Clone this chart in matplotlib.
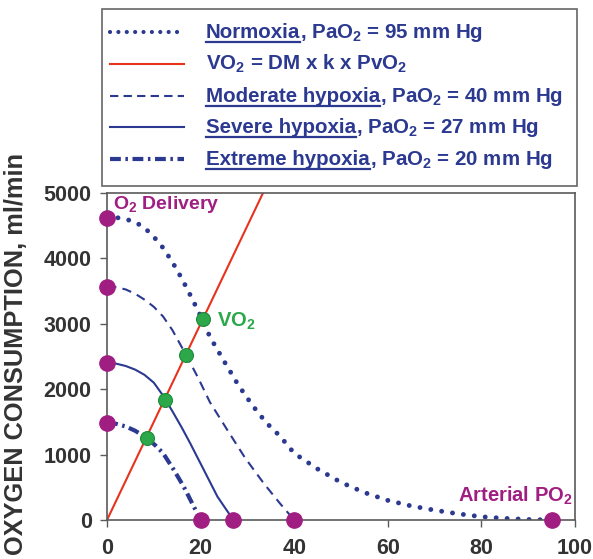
import numpy as np
import matplotlib
matplotlib.use("Agg")
import matplotlib.pyplot as plt
from matplotlib.lines import Line2D
from matplotlib.patches import Rectangle

plt.rcParams['font.family'] = ['Liberation Sans', 'DejaVu Sans']
plt.rcParams['font.weight'] = 'bold'
plt.rcParams['mathtext.fontset'] = 'custom'
plt.rcParams['mathtext.rm'] = 'Liberation Sans:bold'
plt.rcParams['mathtext.bf'] = 'Liberation Sans:bold'
plt.rcParams['mathtext.it'] = 'Liberation Sans:bold'
plt.rcParams['mathtext.default'] = 'rm'

# ---- data: O2 delivery curves vs venous PO2 (mm Hg) ----
normoxia_x = [0, 2, 4, 6, 8, 10, 12, 14, 16, 18, 20, 22, 25, 28, 31, 34, 37, 40,
              45, 50, 55, 60, 65, 70, 75, 80, 85, 90, 95]
normoxia_y = [4630, 4625, 4600, 4555, 4470, 4330, 4160, 3940, 3690, 3410, 3120, 2800,
              2430, 2070, 1760, 1490, 1280, 1020, 780, 575, 420, 300, 215, 150, 95, 50,
              25, 8, 0]

moderate_x = [0, 2, 4, 6, 8, 10, 12, 14, 17, 19.5, 22, 25.5, 29.5, 33.5, 37, 40]
moderate_y = [3570, 3560, 3525, 3460, 3370, 3260, 3110, 2900, 2510, 2170, 1800, 1400,
              950, 560, 250, 0]

severe_x = [0, 2, 4, 6, 8, 10, 12, 14, 16, 17.8, 20.7, 23.6, 27]
severe_y = [2400, 2390, 2355, 2300, 2220, 2100, 1900, 1660, 1410, 1170, 764, 357, 0]

extreme_x = [0, 2, 4, 6, 8.6, 10.5, 12, 14.3, 16.4, 18.2, 20]
extreme_y = [1480, 1470, 1430, 1365, 1250, 1130, 1020, 764, 509, 255, 0]

# Fick diffusion line VO2 = DM x k x PvO2
dm_k = 150
pvo2_line = np.array([0, 40])

# VO2 operating points (intersections)
vo2_x = [8.5, 12.4, 16.9, 20.5]
vo2_y = [1260, 1840, 2520, 3080]

# O2 delivery (PvO2 = 0) and arterial PO2 (VO2 = 0) points
delivery_x = [0, 0, 0, 0]
delivery_y = [4620, 3570, 2400, 1480]
arterial_x = [20, 27, 40, 95]
arterial_y = [0, 0, 0, 0]

x_ticks = [0, 20, 40, 60, 80, 100]
y_ticks = [0, 1000, 2000, 3000, 4000, 5000]

# ---- colours ----
navy = '#2B3990'
red = '#E8321E'
purple = '#A01E82'
green = '#2CA84A'
green_edge = '#1F8A3A'
gray = '#333333'
spine_gray = '#5a5a5a'

W, H = 593, 559
fig = plt.figure(figsize=(W / 100, H / 100), dpi=100)
ax = fig.add_axes([107 / W, 1 - 520 / H, (575 - 107) / W, (520 - 193) / H])

normoxia_style = dict(color=navy, lw=3.5, linestyle=(0, (0.01, 2.25)), dash_capstyle='round')
moderate_style = dict(color=navy, lw=1.5, linestyle=(0, (4.5, 3)))
severe_style = dict(color=navy, lw=1.5, linestyle='-')
extreme_style = dict(color=navy, lw=3.0, linestyle=(0, (2.6, 1.1, 0.6, 1.1)))
line_style = dict(color=red, lw=1.5, linestyle='-')

ax.plot(normoxia_x, normoxia_y, **normoxia_style)
ax.plot(moderate_x, moderate_y, **moderate_style)
ax.plot(severe_x, severe_y, **severe_style)
ax.plot(extreme_x, extreme_y, **extreme_style)
ax.plot(pvo2_line, dm_k * pvo2_line, **line_style)

ax.plot(vo2_x, vo2_y, 'o', ms=10, color=green, mec=green_edge, mew=0.8, zorder=5)
ax.plot(delivery_x, delivery_y, 'o', ms=11, color=purple, mec=purple, zorder=6, clip_on=False)
ax.plot(arterial_x, arterial_y, 'o', ms=11, color=purple, mec=purple, zorder=6, clip_on=False)

ax.text(1.2, 4755, 'O$_2$ Delivery', color=purple, fontsize=14, ha='left', va='baseline')
ax.text(23.5, 2950, 'VO$_2$', color=green, fontsize=14.5, ha='left', va='baseline')
ax.text(99.4, 275, 'Arterial PO$_2$', color=purple, fontsize=14.5, ha='right', va='baseline')

ax.set_xlim(0, 100)
ax.set_ylim(0, 5000)
ax.set_xticks(x_ticks)
ax.set_yticks(y_ticks)
ax.set_xticklabels([str(v) for v in x_ticks])
ax.set_yticklabels([str(v) for v in y_ticks])
ax.tick_params(axis='both', direction='out', length=5, width=1, color=spine_gray,
               labelsize=15.5, labelcolor=gray)
ax.tick_params(axis='y', pad=6)
ax.tick_params(axis='x', pad=8)
for lbl in ax.get_xticklabels() + ax.get_yticklabels():
    lbl.set_fontweight('bold')
for sp in ax.spines.values():
    sp.set_color(spine_gray)
    sp.set_linewidth(1.2)

fig.text(16.5 / W, 1 - 354 / H, 'OXYGEN CONSUMPTION, ml/min', rotation=90,
         fontsize=18.3, color=gray, ha='center', va='center')

# ---- legend box drawn in figure pixels ----
def fx(px):
    return px / W

def fy(py):
    return 1 - py / H

fig.add_artist(Rectangle((fx(102), fy(186)), fx(577) - fx(102), fy(9) - fy(186),
                         transform=fig.transFigure, facecolor='white',
                         edgecolor='#666666', lw=1.2))

legend_rows = [
    (dict(color=navy, lw=3.0, linestyle=(0, (0.01, 2.0)), dash_capstyle='round'),
     'Normoxia', ', PaO$_2$ = 95 mm Hg'),
    (line_style, '', 'VO$_2$ = DM x k x PvO$_2$'),
    (dict(color=navy, lw=1.5, linestyle=(0, (4, 2.5))), 'Moderate hypoxia', ', PaO$_2$ = 40 mm Hg'),
    (severe_style, 'Severe hypoxia', ', PaO$_2$ = 27 mm Hg'),
    (dict(color=navy, lw=3.0, linestyle=(0, (2.6, 1.1, 0.6, 1.1))), 'Extreme hypoxia',
     ', PaO$_2$ = 20 mm Hg'),
]
baselines = [38, 70, 102, 133, 165]

fig.canvas.draw()
renderer = fig.canvas.get_renderer()
text_x0 = 206
legend_fs = 14.8
for (style, under, rest), base in zip(legend_rows, baselines):
    fig.add_artist(Line2D([fx(110), fx(184)], [fy(base - 6)] * 2,
                          transform=fig.transFigure, **style))
    x_cursor = text_x0
    if under:
        t1 = fig.text(fx(x_cursor), fy(base), under, fontsize=legend_fs, color=navy,
                      ha='left', va='baseline')
        bb = t1.get_window_extent(renderer)
        fig.add_artist(Line2D([bb.x0 / W, bb.x1 / W], [fy(base + 4)] * 2,
                              transform=fig.transFigure, color=navy, lw=1.6))
        x_cursor = bb.x1
    fig.text(fx(x_cursor), fy(base), rest, fontsize=legend_fs, color=navy,
             ha='left', va='baseline')

fig.savefig('out.png', dpi=100)
